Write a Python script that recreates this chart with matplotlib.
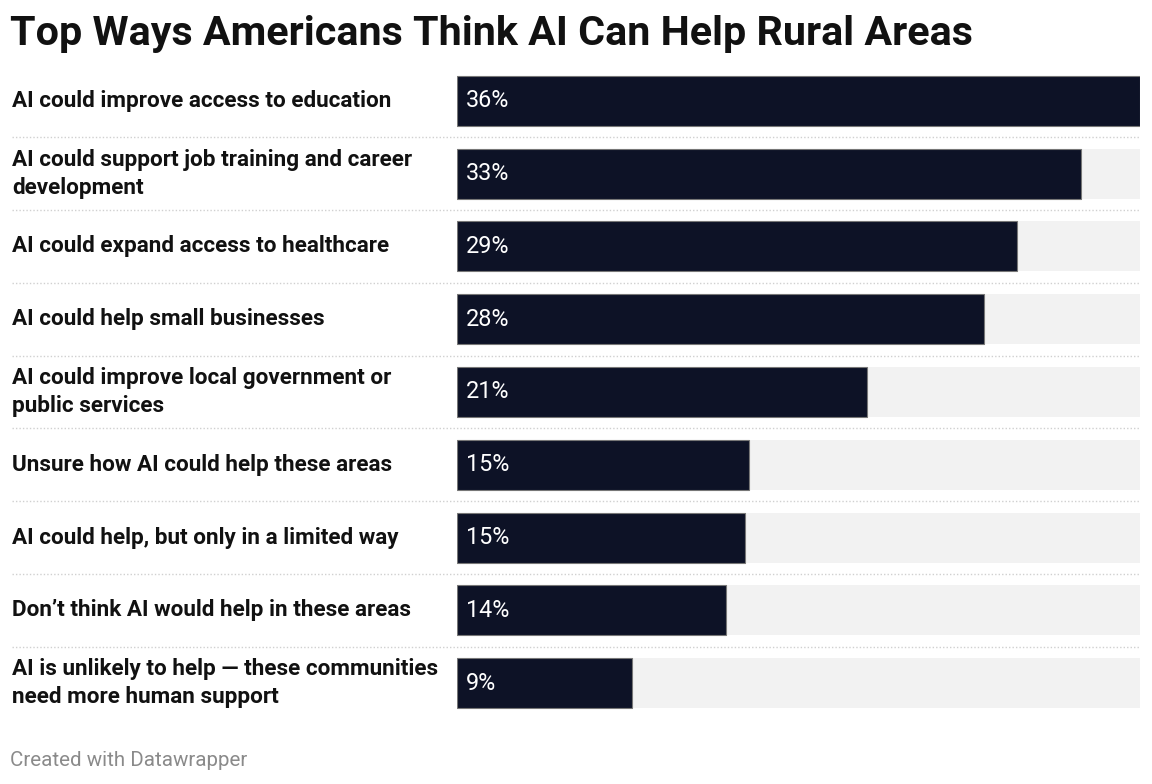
import numpy as np
import matplotlib.pyplot as plt
from matplotlib.transforms import blended_transform_factory

plt.rcParams['font.family'] = ['Roboto', 'DejaVu Sans']

categories = [
	"AI could improve access to education",
	"AI could support job training and career\ndevelopment",
	"AI could expand access to healthcare",
	"AI could help small businesses",
	"AI could improve local government or\npublic services",
	"Unsure how AI could help these areas",
	"AI could help, but only in a limited way",
	"Don’t think AI would help in these areas",
	"AI is unlikely to help — these communities\nneed more human support",
]
values = [36.0, 32.9, 29.5, 27.8, 21.6, 15.4, 15.2, 14.2, 9.2]
value_labels = ["36%", "33%", "29%", "28%", "21%", "15%", "15%", "14%", "9%"]

bar_color = '#0d1226'
back_color = '#f2f2f2'

W, H = 1152, 784
fig = plt.figure(figsize=(W / 100, H / 100), dpi=100)
fig.patch.set_facecolor('white')

# axes in pixel terms: bars from x=457 to 1140, rows from y~64 to ~718
left, right = 457, 1140
top, bottom = 64.6, 719.4
ax = fig.add_axes([left / W, 1 - bottom / H, (right - left) / W, (bottom - top) / H])

n = len(categories)
y = np.arange(n)
vmax = max(values)

ax.barh(y, [vmax] * n, height=0.687, color=back_color, linewidth=0)
ax.barh(y, values, height=0.687, color=bar_color, edgecolor='#777777', linewidth=0.8)

ax.set_xlim(0, vmax)
ax.set_ylim(n - 0.5, -0.5)
ax.axis('off')

tr = blended_transform_factory(fig.transFigure, ax.transData)

for i in range(n):
	fig.text(12 / W, y[i], categories[i], transform=tr, ha='left', va='center',
		fontsize=16.2, fontweight='bold', color='#111111', linespacing=1.33)
	ax.text(9 / (right - left) * vmax, y[i], value_labels[i], ha='left', va='center',
		fontsize=16.8, color='white')

for i in range(n - 1):
	fig.add_artist(plt.Line2D([12 / W, right / W], [y[i] + 0.5, y[i] + 0.5], transform=tr,
		color='#d0d0d0', linewidth=1, linestyle=(0, (1, 1.5))))

fig.text(10 / W, 1 - 34 / H, "Top Ways Americans Think AI Can Help Rural Areas",
	ha='left', va='center', fontsize=29.7, fontweight='bold', color='#111111')

fig.text(10 / W, 1 - 760 / H, "Created with Datawrapper", ha='left', va='center',
	fontsize=14.8, color='#8a8a8a')

fig.savefig('out.png', dpi=100, facecolor='white')
